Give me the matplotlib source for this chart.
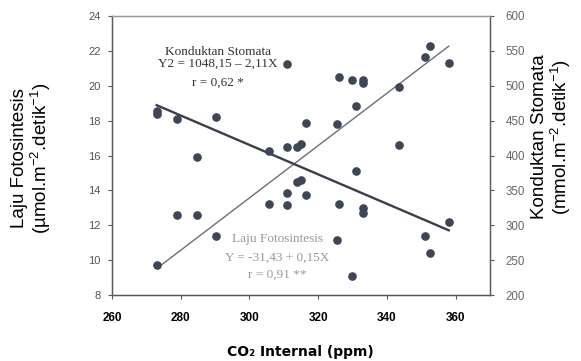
import matplotlib
matplotlib.use("Agg")
import matplotlib.pyplot as plt
import numpy as np

# ---- data ----
co2_photo = [273.0, 278.8, 284.6, 290.3, 305.8, 310.9, 310.9, 313.7, 315.0, 316.4,
             325.4, 326.1, 329.7, 331.0, 333.0, 333.0, 343.5, 351.2, 352.6, 358.0]
photo = [9.72, 12.57, 12.57, 11.38, 13.24, 16.47, 13.87, 16.47, 16.66, 17.88,
         17.79, 20.52, 20.33, 18.84, 20.33, 20.14, 19.91, 21.66, 22.28, 21.29]

co2_cond = [273.0, 273.0, 278.8, 284.6, 290.3, 305.8, 310.9, 310.9, 313.7, 315.0,
            316.4, 325.4, 326.1, 329.7, 331.0, 333.0, 333.0, 343.5, 351.2, 352.6, 358.0]
cond = [463.8, 459.5, 451.8, 397.5, 455.5, 406.5, 531.3, 328.5, 362.0, 364.8,
        343.0, 278.8, 330.0, 226.8, 378.3, 324.8, 317.5, 414.5, 284.5, 259.8, 304.8]

photo_coef = (-31.43, 0.15)     # Y  = a + bX
cond_coef = (1048.15, -2.11)    # Y2 = a + bX
fit_range = (273, 358)

x_ticks = [260, 280, 300, 320, 340, 360]
y_ticks = [8, 10, 12, 14, 16, 18, 20, 22, 24]
y2_ticks = [200, 250, 300, 350, 400, 450, 500, 550, 600]

plt.rcParams['mathtext.fontset'] = 'custom'
plt.rcParams['mathtext.rm'] = 'Liberation Sans'
plt.rcParams['mathtext.it'] = 'Liberation Sans:italic'

W, H = 581, 361
fig = plt.figure(figsize=(W / 100, H / 100), dpi=100)
ax = fig.add_axes([0.1928, 0.1828, 0.6506, 0.7729])
ax2 = ax.twinx()

dot_c = '#3e4656'
ax.plot(co2_photo, photo, 'o', color=dot_c, ms=5.2, zorder=3)
ax2.plot(co2_cond, cond, 'o', color=dot_c, ms=5.2, zorder=3)

xf = np.array(fit_range)
ax.plot(xf, photo_coef[0] + photo_coef[1] * xf, color='#6a6f78', lw=1.0)
ax2.plot(xf, cond_coef[0] + cond_coef[1] * xf, color='#3a3f4a', lw=1.7)

ax.set_xlim(260, 370)
ax.set_ylim(8, 24)
ax2.set_ylim(200, 600)
ax.set_xticks(x_ticks)
ax.set_yticks(y_ticks)
ax2.set_yticks(y2_ticks)

spine_c = '#555a63'
for a in (ax, ax2):
    for s in a.spines.values():
        s.set_color(spine_c)
        s.set_linewidth(0.9)
ax.spines['top'].set_color('#9a9a9a')
ax2.spines['top'].set_color('#9a9a9a')

ax.tick_params(axis='y', direction='out', length=3, width=0.8, color=spine_c,
               labelsize=8, labelcolor='#555555', pad=5)
ax2.tick_params(axis='y', direction='out', length=3, width=0.8, color=spine_c,
                labelsize=8.3, labelcolor='#666666', pad=8)
ax.tick_params(axis='x', direction='out', length=3, width=0.8, color=spine_c,
               labelsize=8.5, pad=9)
for lab in ax.get_xticklabels():
    lab.set_fontweight('bold')
    lab.set_family(['Liberation Sans Narrow', 'Liberation Sans'])
for lab in ax.get_yticklabels() + ax2.get_yticklabels():
    lab.set_family(['Liberation Sans'])

fig.text(300 / W, 1 - 352 / H, 'CO\u2082 Internal (ppm)', fontsize=10, fontweight='bold',
         family=['Liberation Sans Narrow', 'DejaVu Sans'], ha='center', va='center')
fig.text(32 / W, 1 - 158 / H, 'Laju Fotosintesis\n(µmol.m$^{-2}$.detik$^{-1}$)',
         fontsize=13.5, family='Liberation Sans', linespacing=1.1, rotation=90,
         ha='center', va='center', multialignment='center')
fig.text(552 / W, 1 - 137 / H, 'Konduktan Stomata\n(mmol.m$^{-2}$.detik$^{-1}$)',
         fontsize=13.5, family='Liberation Sans', linespacing=1.1, rotation=90,
         ha='center', va='center', multialignment='center')

txt_c = '#333333'
for yy, s in [(0.871, 'Konduktan Stomata'), (0.828, 'Y2 = 1048,15 \u2013 2,11X'),
              (0.760, 'r = 0,62 *')]:
    ax.text(0.28, yy, s, transform=ax.transAxes, ha='center', va='center',
            fontsize=9.5, family='Liberation Serif', color=txt_c)

gray_t = '#9a9a9a'
for yy, s in [(0.2, 'Laju Fotosintesis'), (0.133, 'Y = -31,43 + 0,15X'),
              (0.072, 'r = 0,91 **')]:
    ax.text(0.437, yy, s, transform=ax.transAxes, ha='center', va='center',
            fontsize=9.5, family='Liberation Serif', color=gray_t)

fig.savefig('out.png', dpi=100)
